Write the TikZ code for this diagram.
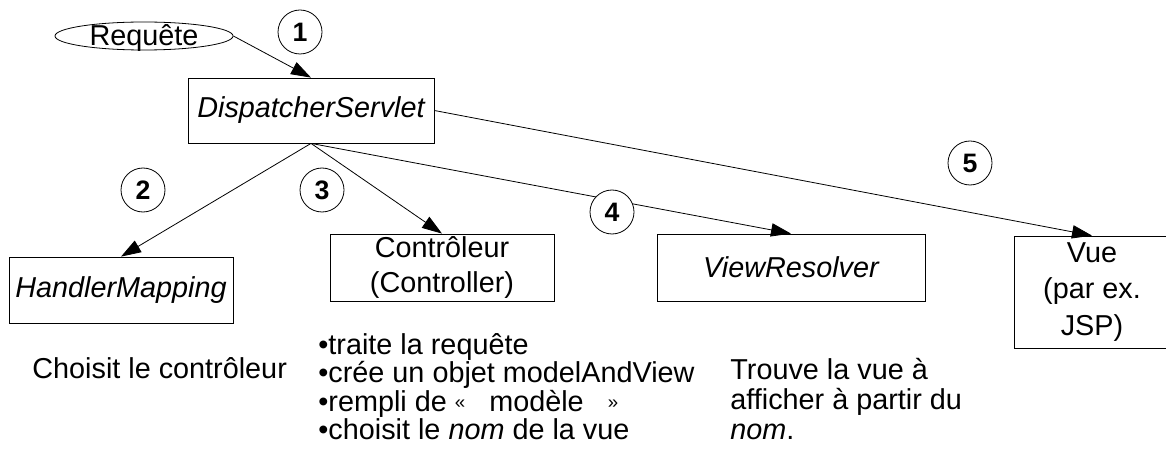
\documentclass[tikz,border=0pt]{standalone}
\usepackage{fontspec}
\setmainfont{Liberation Sans}
\usetikzlibrary{arrows.meta, shapes.geometric}

\newcommand{\guil}[1]{\raisebox{2pt}{\fontsize{14}{14}\selectfont #1}}

\begin{document}
\begin{tikzpicture}[
    x=0.75pt, y=-0.75pt,
    >={Triangle[length=15pt, width=10pt]},
    line width=0.6pt,
    font=\fontsize{21.6}{26}\selectfont,
    % Style for the component boxes
    box/.style={draw, inner sep=0pt, align=center},
    % Style for the numbered step markers
    stepnum/.style={draw, circle, fill=white, minimum size=33pt, inner sep=0pt,
        font=\fontsize{20}{20}\selectfont\bfseries},
    % Style for the explanations under the boxes
    note/.style={inner sep=0pt, align=left}
]
\useasboundingbox (0,0) rectangle (1166,463);

% --- Incoming request ---
\node[draw, ellipse, minimum width=133.5pt, minimum height=21pt, inner sep=0pt,
    text height=14pt, text depth=0pt] (req) at (144,36) {Requête};

% --- Components ---
\node[box, minimum width=184.5pt, minimum height=48.75pt] (disp) at (311,110.5) {\itshape DispatcherServlet};
\node[box, minimum width=168pt, minimum height=49.5pt] (hm) at (121,290) {\itshape HandlerMapping};
\node[box, minimum width=168pt, minimum height=50.25pt] (ctrl) at (442,267.5) {Contrôleur\\(Controller)};
\node[box, minimum width=201pt, minimum height=50.25pt] (vr) at (791,267.5) {\itshape ViewResolver};
\node[box, minimum width=117pt, minimum height=84pt, font=\fontsize{21.6}{27.5}\selectfont] (vue) at (1092,292) {Vue\\(par ex.\\JSP)};

% --- Calls ---
\draw[->] (req.east) -- (disp.north);
\draw[->] (disp.south) -- (hm.north);
\draw[->] (disp.south) -- (ctrl.north);
\draw[->] (disp.south) -- (vr.north);
\draw[->] (disp.east) -- (vue.north);

% --- Step numbers (drawn over the lines) ---
\node[stepnum] (s1) at (300,32) {1};
\node[stepnum] (s2) at (143,190) {2};
\node[stepnum] (s3) at (322,190) {3};
\node[stepnum] (s4) at (612,212) {4};
\node[stepnum] (s5) at (970,163) {5};

% --- Explanations ---
\node[note, anchor=base west] (hmnote) at (32,378) {Choisit le contrôleur};
\node[note, anchor=north west, font=\fontsize{21.6}{19.5}\selectfont] (ctrlnote) at (318,333)
    {•traite la requête\\•crée un objet modelAndView\\•rempli de \guil{«}\ \ \ modèle\ \ \ \guil{»}\\•choisit le \textit{nom} de la vue};
\node[note, anchor=north west, font=\fontsize{21.6}{22.5}\selectfont] (vrnote) at (730,358)
    {Trouve la vue à\\afficher à partir du\\\textit{nom}.};

\end{tikzpicture}
\end{document}
